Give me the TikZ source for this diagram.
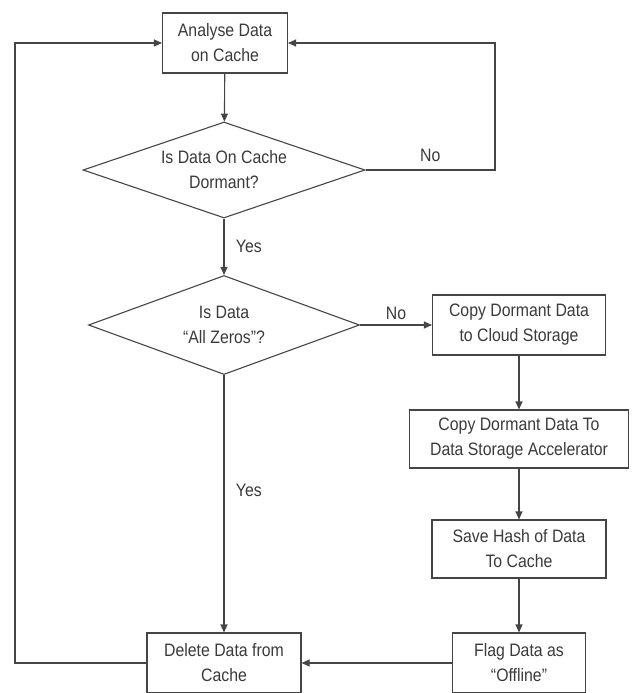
\documentclass[tikz,border=0pt]{standalone}
\usepackage{fontspec}
\setmainfont{Liberation Sans}[FakeStretch=0.88]
\usepackage{tikz}
\usetikzlibrary{positioning,arrows.meta,calc,shapes.geometric}
\definecolor{inkgray}{HTML}{3A3A3A}
\definecolor{linegray}{HTML}{454545}

\begin{document}
\begin{tikzpicture}[x=1pt, y=-1pt,
    every node/.style={text=inkgray, font=\fontsize{18}{25}\selectfont, align=center},
    procbox/.style={draw=linegray, line width=1.1pt, inner sep=2pt},
    decision/.style={draw=linegray, line width=1.1pt, diamond, aspect=2.9, inner sep=0pt},
    flow/.style={draw=linegray, line width=1.1pt, -{Triangle[length=8pt, width=7pt]}},
    lbl/.style={fill=none}]
        \useasboundingbox (0,0) rectangle (637,693);

        % Process boxes
        \node[procbox, minimum width=125pt, minimum height=60pt] (analyse) at (225,43) {Analyse Data\\on Cache};
        \node[procbox, minimum width=173pt, minimum height=60pt] (cloud) at (519,325) {Copy Dormant Data\\to Cloud Storage};
        \node[procbox, minimum width=219pt, minimum height=58pt] (dsa) at (519,439) {Copy Dormant Data To\\Data Storage Accelerator};
        \node[procbox, minimum width=174pt, minimum height=58pt] (hash) at (519,549) {Save Hash of Data\\To Cache};
        \node[procbox, minimum width=133pt, minimum height=60pt] (flag) at (519,663) {Flag Data as\\``Offline''};
        \node[procbox, minimum width=154pt, minimum height=60pt] (delete) at (224,663) {Delete Data from\\Cache};

        % Decisions
        \node[decision, minimum width=282pt, minimum height=96pt] (dormant) at (224,170) {Is Data On Cache\\Dormant?};
        \node[decision, minimum width=271pt, minimum height=99pt] (zeros) at (224,325) {Is Data\\``All Zeros''?};

        % Loop corners
        \coordinate (rloop) at (495,43);
        \coordinate (lloop) at (15,43);

        % Main flow
        \draw[flow] (analyse) -- (dormant);
        \draw[flow] (dormant) -- node[lbl, right=8pt] {Yes} (zeros);
        \draw[flow] (zeros.east) -- node[lbl, above=1pt] {No} (cloud.west);
        \draw[flow] (cloud) -- (dsa);
        \draw[flow] (dsa) -- (hash);
        \draw[flow] (hash) -- (flag);
        \draw[flow] (zeros.south) -- node[lbl, pos=0.45, right=8pt] {Yes} (delete.north);
        \draw[flow] (flag.west) -- (delete.east);

        % Loops back to the top
        \draw[flow] (dormant.east) -| node[lbl, pos=0.25, above=4pt] {No} (rloop) -- (analyse.east);
        \draw[flow] (delete.west) -| (lloop) -- (analyse.west);
      \end{tikzpicture}
\end{document}
